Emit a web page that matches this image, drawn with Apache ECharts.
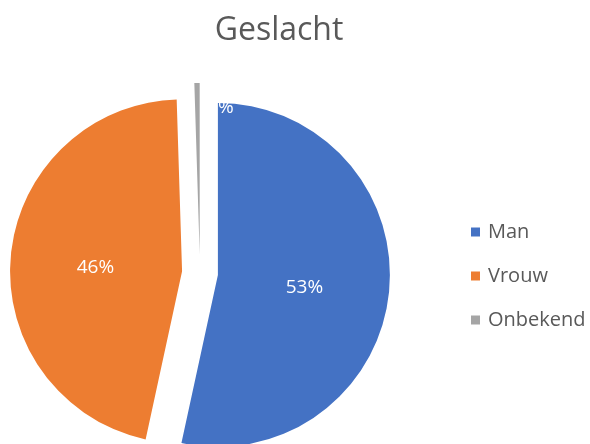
<!DOCTYPE html>
<html>
<head>
<meta charset="utf-8">
<script src="https://cdn.jsdelivr.net/npm/echarts@6/dist/echarts.min.js"></script>
<style>
  html, body { margin: 0; padding: 0; background: #fff; }
  #chart { width: 590px; height: 444px; }
</style>
</head>
<body>
<div id="chart"></div>
<script>
var categories = ['Man', 'Vrouw', 'Onbekend'];
var counts = [534, 461, 5];
var colors = ['#4472C4', '#ED7D31', '#A5A5A5'];

var chart = echarts.init(document.getElementById('chart'));

var pieData = categories.map(function (name, i) {
  return { name: name, value: counts[i], selected: true, itemStyle: { color: colors[i] } };
});

var option = {
  animation: false,
  title: {
    text: 'Geslacht',
    left: 274,
    textAlign: 'center',
    top: 10,
    textStyle: {
      fontFamily: 'Open Sans',
      fontSize: 32,
      fontWeight: 'normal',
      color: '#595959'
    }
  },
  legend: {
    orient: 'vertical',
    left: 466,
    top: 217,
    icon: 'rect',
    itemWidth: 9,
    itemHeight: 9,
    itemGap: 24,
    selectedMode: false,
    data: categories,
    textStyle: {
      fontFamily: 'Open Sans',
      fontSize: 20,
      color: '#595959',
      padding: [0, 0, 0, 3]
    }
  },
  series: [{
    type: 'pie',
    center: [200, 273],
    radius: 172,
    startAngle: 90,
    clockwise: true,
    selectedMode: 'multiple',
    selectedOffset: 18,
    select: { disabled: false, itemStyle: {} },
    emphasis: { disabled: true },
    label: {
      position: 'inside',
      color: '#fff',
      fontFamily: 'Open Sans',
      fontSize: 19,
      formatter: function (p) {
        return Math.round(p.percent) + '%';
      }
    },
    labelLayout: function (p) {
      if (p.dataIndex === 0) {
        return { dx: -2, dy: 3 };
      }
      if (p.dataIndex === 1) {
        return { dx: 2, dy: 4 };
      }
      return { dx: 22, dy: -58 };
    },
    data: pieData
  }]
};

chart.setOption(option);
</script>
</body>
</html>
